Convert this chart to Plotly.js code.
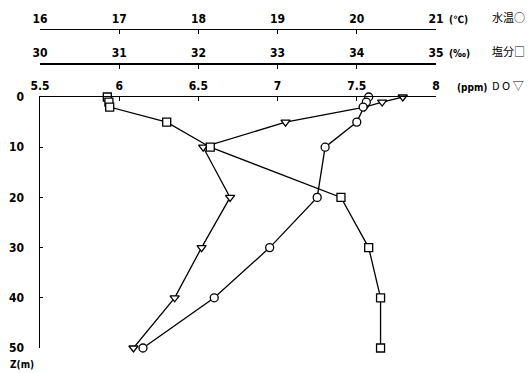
<!DOCTYPE html>
<html>
<head>
<meta charset="utf-8">
<script src="https://cdn.plot.ly/plotly-3.0.1.min.js"></script>
<style>
  body { margin: 0; background: #fff; }
  #chart { width: 532px; height: 373px; }
</style>
</head>
<body>
<div id="chart"></div>
<script>
// depth of each sample (m)
const depth = [0, 1, 2, 5, 10, 20, 30, 40, 50];
// water temperature (C)
const temp = [20.15, 20.12, 20.08, 20.0, 19.6, 19.5, 18.9, 18.2, 17.3];
// salinity (permil)
const salinity = [30.85, 30.87, 30.88, 31.6, 32.15, 33.8, 34.15, 34.3, 34.3];
// dissolved oxygen (ppm)
const dissolvedO2 = [7.79, 7.66, 7.55, 7.05, 6.53, 6.7, 6.52, 6.35, 6.09];

const tempTicks = [16, 17, 18, 19, 20, 21];
const salTicks = [30, 31, 32, 33, 34, 35];
const doTicks = [5.5, 6, 6.5, 7, 7.5, 8];
const depthTicks = [0, 10, 20, 30, 40, 50];

const numFont = { family: 'DejaVu Sans Condensed, sans-serif', size: 12, color: '#000', weight: 'bold' };
const unitFont = { family: 'DejaVu Sans Condensed, sans-serif', size: 10, color: '#000', weight: 'bold' };
const jpFont = { family: 'Noto Sans CJK JP, sans-serif', size: 11, color: '#000' };

function profileTrace(xs, xaxis, symbol, size) {
    return {
        x: xs,
        y: depth,
        xaxis: xaxis,
        yaxis: 'y',
        type: 'scatter',
        mode: 'lines+markers',
        line: { color: '#000', width: 1.3 },
        marker: { symbol: symbol, size: size, color: '#fff', line: { color: '#000', width: 1.3 } },
        cliponaxis: false,
        showlegend: false
    };
}

// top axes share the same look
function topAxis(range, ticks) {
    return {
        range: range,
        tickvals: ticks,
        ticktext: ticks.map(String),
        side: 'top',
        showgrid: false,
        zeroline: false,
        showline: true,
        linecolor: '#000',
        linewidth: 1.5,
        ticks: 'inside',
        ticklen: 4,
        tickcolor: '#000',
        tickwidth: 1.3,
        tickfont: numFont,
        ticklabelstandoff: 1
    };
}

const data = [
    profileTrace(temp, 'x3', 'circle', 8),
    profileTrace(salinity, 'x2', 'square', 8),
    profileTrace(dissolvedO2, 'x', 'triangle-down', 8)
];

const xDO = topAxis([5.5, 8], doTicks);
xDO.anchor = 'y';
xDO.ticktext = ['5.5', '6', '6.5', '7', '7.5', '8'];

const xSal = topAxis([30, 35], salTicks);
xSal.overlaying = 'x';
xSal.anchor = 'free';
xSal.position = 0.8689;

const xTemp = topAxis([16, 21], tempTicks);
xTemp.overlaying = 'x';
xTemp.anchor = 'free';
xTemp.position = 0.9726;

const labels = [
    ['(℃)', 0.9726, 447, unitFont],
    ['(‰)', 0.8689, 447, unitFont],
    ['(ppm)', 0.7652, 455, unitFont],
    ['水温○', 0.9726, 490, jpFont],
    ['塩分□', 0.8689, 490, jpFont],
    ['D O ▽', 0.7652, 490, jpFont]
];

const annotations = labels.map(function (l) {
    return {
        text: l[0], xref: 'paper', yref: 'paper',
        x: (l[2] - 40) / 396, y: l[1],
        xanchor: 'left', yanchor: 'bottom', yshift: 2,
        showarrow: false, font: l[3]
    };
});
annotations.push({
    text: 'Z(m)', xref: 'paper', yref: 'paper', x: -0.08, y: 0,
    xanchor: 'left', yanchor: 'top', yshift: -9,
    showarrow: false, font: { family: numFont.family, size: 10, color: '#000', weight: 'bold' }
});

const layout = {
    width: 532,
    height: 373,
    margin: { l: 40, r: 96, t: 20, b: 25 },
    paper_bgcolor: '#fff',
    plot_bgcolor: '#fff',
    xaxis: xDO,
    xaxis2: xSal,
    xaxis3: xTemp,
    yaxis: {
        domain: [0, 0.7652],
        range: [50, 0],
        tickvals: depthTicks,
        showgrid: false,
        zeroline: false,
        showline: true,
        linecolor: '#000',
        linewidth: 1.5,
        ticks: 'inside',
        ticklen: 3,
        tickcolor: '#000',
        tickfont: numFont,
        ticklabelstandoff: 12
    },
    annotations: annotations
};

Plotly.newPlot('chart', data, layout, { staticPlot: true });
</script>
</body>
</html>
